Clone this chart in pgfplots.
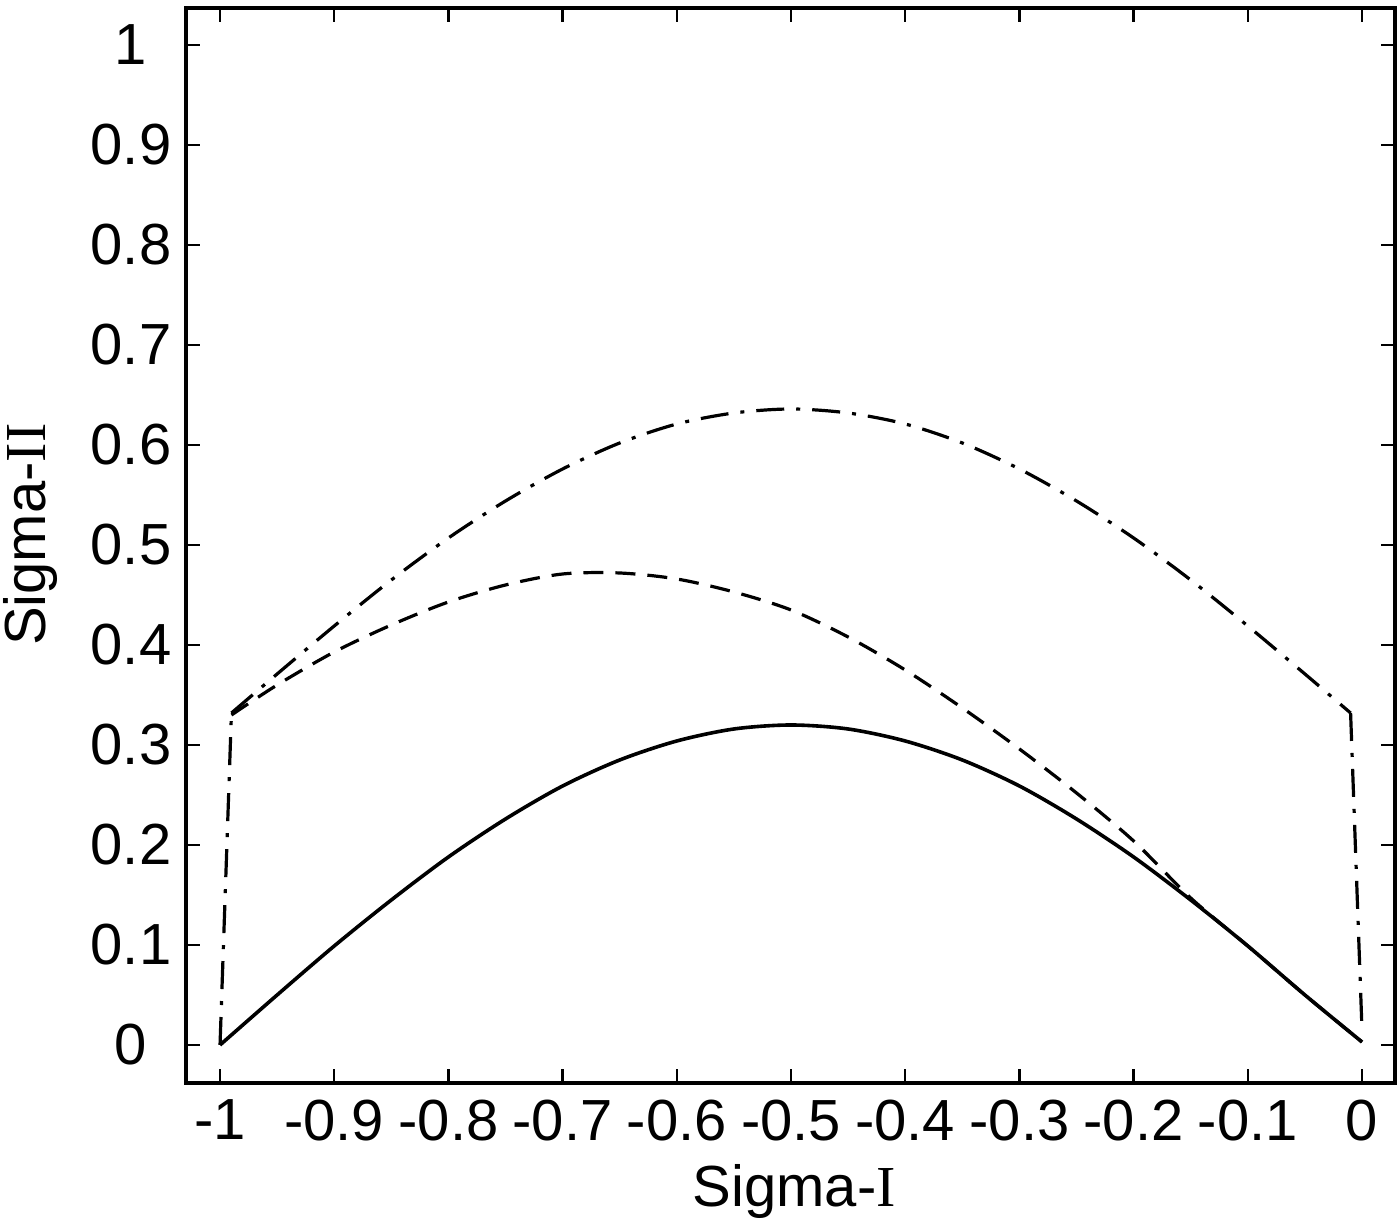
\documentclass[border=0pt]{standalone}
\usepackage{fontspec}
\setmainfont{Liberation Sans}
\newfontfamily\romnum{Liberation Serif}
\usepackage{pgfplots}
\pgfplotsset{compat=1.18}
\newcommand{\lblfont}{\fontsize{14.5pt}{17pt}\selectfont}

% values
\pgfplotstableread{
x      y
-1.00  0.000
-0.95  0.050
-0.90  0.099
-0.85  0.145
-0.80  0.188
-0.75  0.226
-0.70  0.259
-0.65  0.285
-0.60  0.304
-0.55  0.316
-0.50  0.320
-0.45  0.316
-0.40  0.304
-0.35  0.285
-0.30  0.259
-0.25  0.226
-0.20  0.188
-0.15  0.145
-0.10  0.099
-0.05  0.050
 0.00  0.003
}\solidtab
\pgfplotstableread{
x      y
-0.99  0.330
-0.95  0.360
-0.90  0.393
-0.85  0.420
-0.80  0.443
-0.75  0.460
-0.70  0.471
-0.65  0.472
-0.60  0.466
-0.55  0.453
-0.50  0.435
-0.45  0.408
-0.40  0.375
-0.35  0.337
-0.30  0.296
-0.25  0.252
-0.20  0.204
-0.15  0.147
-0.10  0.099
-0.05  0.050
 0.00  0.003
}\dashtab
\pgfplotstableread{
x      y
-0.99  0.332
-0.95  0.371
-0.90  0.419
-0.85  0.465
-0.80  0.507
-0.75  0.544
-0.70  0.576
-0.65  0.602
-0.60  0.621
-0.55  0.632
-0.50  0.636
-0.45  0.632
-0.40  0.621
-0.35  0.602
-0.30  0.576
-0.25  0.544
-0.20  0.507
-0.15  0.465
-0.10  0.419
-0.05  0.371
-0.01  0.332
}\dashdottab

\begin{document}
\begin{tikzpicture}
\begin{axis}[
    at={(0,0)}, anchor=south west,
    scale only axis, width=302.25pt, height=268.75pt,
    xmin=-1.0298, xmax=0.0289, ymin=-0.038, ymax=1.037,
    axis line style={line width=0.8pt},
    tick align=inside, xtick pos=both, ytick pos=both,
    major tick length=3.5pt,
    every tick/.style={black, line width=0.6pt},
    xtick={-1,-0.9,-0.8,-0.7,-0.6,-0.5,-0.4,-0.3,-0.2,-0.1,0},
    xticklabels={-1,-0.9,-0.8,-0.7,-0.6,-0.5,-0.4,-0.3,-0.2,-0.1,0},
    ytick={0,0.1,0.2,0.3,0.4,0.5,0.6,0.7,0.8,0.9,1},
    yticklabels={0,0.1,0.2,0.3,0.4,0.5,0.6,0.7,0.8,0.9,1},
    xticklabel style={font=\lblfont, anchor=north, inner sep=0pt, yshift=-4pt},
    yticklabel style={font=\lblfont, anchor=center, inner sep=0pt, xshift=-13.75pt},
    xlabel={Sigma-{\romnum I}},
    ylabel={Sigma-{\romnum II}},
    xlabel style={font=\lblfont, at={(axis description cs:0.503,-0.101)}, anchor=center},
    ylabel style={font=\lblfont, at={(axis description cs:-0.129,0.51)}, anchor=center},
    dashdot/.style={black, line width=0.8pt, dash pattern=on 7pt off 3pt on 1pt off 3pt},
]
\addplot[black, line width=0.9pt, smooth] table {\solidtab};
\addplot[black, line width=0.8pt, smooth, dash pattern=on 5pt off 3pt] table {\dashtab};
\addplot[dashdot] coordinates {(-1,0) (-0.99,0.332)};
\addplot[dashdot, smooth] table {\dashdottab};
\addplot[dashdot] coordinates {(-0.01,0.332) (0,0.015)};
\end{axis}
\pgfresetboundingbox
\useasboundingbox (-46.5pt,-36.25pt) rectangle (303.5pt,270.75pt);
\end{tikzpicture}
\end{document}
